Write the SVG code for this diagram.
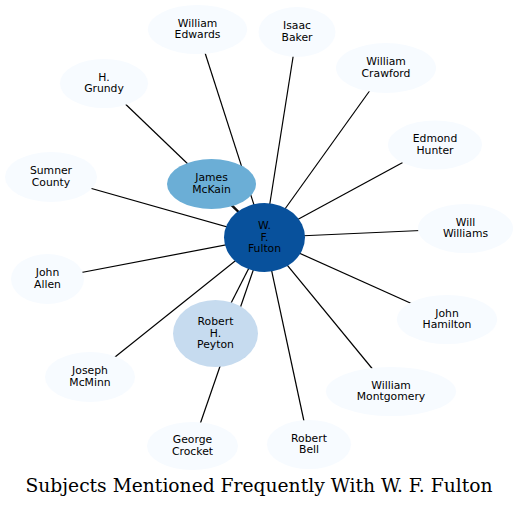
<svg xmlns="http://www.w3.org/2000/svg" width="518" height="508" viewBox="0 0 518 508">
<style>
.e{stroke:#000;stroke-width:1.2;fill:none}
.n{fill:#f7fbff}
text{font-family:"DejaVu Sans",sans-serif;font-size:10.8px;fill:#000;text-anchor:middle}
.t{font-family:"DejaVu Serif",serif;font-size:18.7px}
</style>
<rect width="518" height="508" fill="#fff"/>
<g id="edges">
<line class="e" x1="264.5" y1="237.5" x2="197.5" y2="29.5"/>
<line class="e" x1="264.5" y1="237.5" x2="297" y2="32"/>
<line class="e" x1="264.5" y1="237.5" x2="386" y2="68"/>
<line class="e" x1="264.5" y1="237.5" x2="104" y2="83.5"/>
<line class="e" x1="264.5" y1="237.5" x2="435" y2="145"/>
<line class="e" x1="264.5" y1="237.5" x2="51" y2="177"/>
<line class="e" x1="264.5" y1="237.5" x2="211.5" y2="184"/>
<line class="e" x1="264.5" y1="237.5" x2="465.5" y2="228.5"/>
<line class="e" x1="264.5" y1="237.5" x2="47.5" y2="279"/>
<line class="e" x1="264.5" y1="237.5" x2="447" y2="319.5"/>
<line class="e" x1="264.5" y1="237.5" x2="215.5" y2="333.5"/>
<line class="e" x1="264.5" y1="237.5" x2="90" y2="377"/>
<line class="e" x1="264.5" y1="237.5" x2="391" y2="391.5"/>
<line class="e" x1="264.5" y1="237.5" x2="192.5" y2="446"/>
<line class="e" x1="264.5" y1="237.5" x2="309" y2="444.5"/>
</g>
<g id="n-edwards"><ellipse class="n" cx="197.5" cy="29.5" rx="49.5" ry="24.5"/><text x="197.5" y="26.7">William</text><text x="197.5" y="38.3">Edwards</text></g>
<g id="n-baker"><ellipse class="n" cx="297" cy="32" rx="38.5" ry="25"/><text x="297" y="29">Isaac</text><text x="297" y="40.6">Baker</text></g>
<g id="n-crawford"><ellipse class="n" cx="386" cy="68" rx="50" ry="25"/><text x="386" y="65">William</text><text x="386" y="76.6">Crawford</text></g>
<g id="n-grundy"><ellipse class="n" cx="104" cy="83.5" rx="44" ry="24.5"/><text x="104" y="80.5">H.</text><text x="104" y="92.1">Grundy</text></g>
<g id="n-hunter"><ellipse class="n" cx="435" cy="145" rx="47" ry="24.5"/><text x="435" y="142">Edmond</text><text x="435" y="153.6">Hunter</text></g>
<g id="n-sumner"><ellipse class="n" cx="51" cy="177" rx="46" ry="25"/><text x="51" y="174">Sumner</text><text x="51" y="185.6">County</text></g>
<g id="n-mckain"><ellipse cx="211.5" cy="184" rx="44.5" ry="25" fill="#6baed6"/><text x="211.5" y="181">James</text><text x="211.5" y="192.6">McKain</text></g>
<g id="n-fulton"><ellipse cx="264.5" cy="237.5" rx="40.5" ry="34.5" fill="#08519c"/><text x="264.5" y="229">W.</text><text x="264.5" y="240.6">F.</text><text x="264.5" y="252.2">Fulton</text></g>
<g id="n-williams"><ellipse class="n" cx="465.5" cy="228.5" rx="47.5" ry="24.5"/><text x="465.5" y="225.5">Will</text><text x="465.5" y="237.1">Williams</text></g>
<g id="n-allen"><ellipse class="n" cx="47.5" cy="279" rx="36.5" ry="25"/><text x="47.5" y="276">John</text><text x="47.5" y="287.6">Allen</text></g>
<g id="n-hamilton"><ellipse class="n" cx="447" cy="319.5" rx="50" ry="24.5"/><text x="447" y="316.5">John</text><text x="447" y="328.1">Hamilton</text></g>
<g id="n-peyton"><ellipse cx="215.5" cy="333.5" rx="42.5" ry="33.5" fill="#c6dbef"/><text x="215.5" y="325">Robert</text><text x="215.5" y="336.6">H.</text><text x="215.5" y="348.2">Peyton</text></g>
<g id="n-mcminn"><ellipse class="n" cx="90" cy="377" rx="45" ry="25"/><text x="90" y="374">Joseph</text><text x="90" y="385.6">McMinn</text></g>
<g id="n-montgomery"><ellipse class="n" cx="391" cy="391.5" rx="65" ry="24.5"/><text x="391" y="388.5">William</text><text x="391" y="400.1">Montgomery</text></g>
<g id="n-crocket"><ellipse class="n" cx="192.5" cy="446" rx="45.5" ry="24"/><text x="192.5" y="443">George</text><text x="192.5" y="454.6">Crocket</text></g>
<g id="n-bell"><ellipse class="n" cx="309" cy="444.5" rx="42" ry="24.5"/><text x="309" y="441.5">Robert</text><text x="309" y="453.1">Bell</text></g>
<text class="t" x="259" y="492">Subjects Mentioned Frequently With W. F. Fulton</text>
</svg>
